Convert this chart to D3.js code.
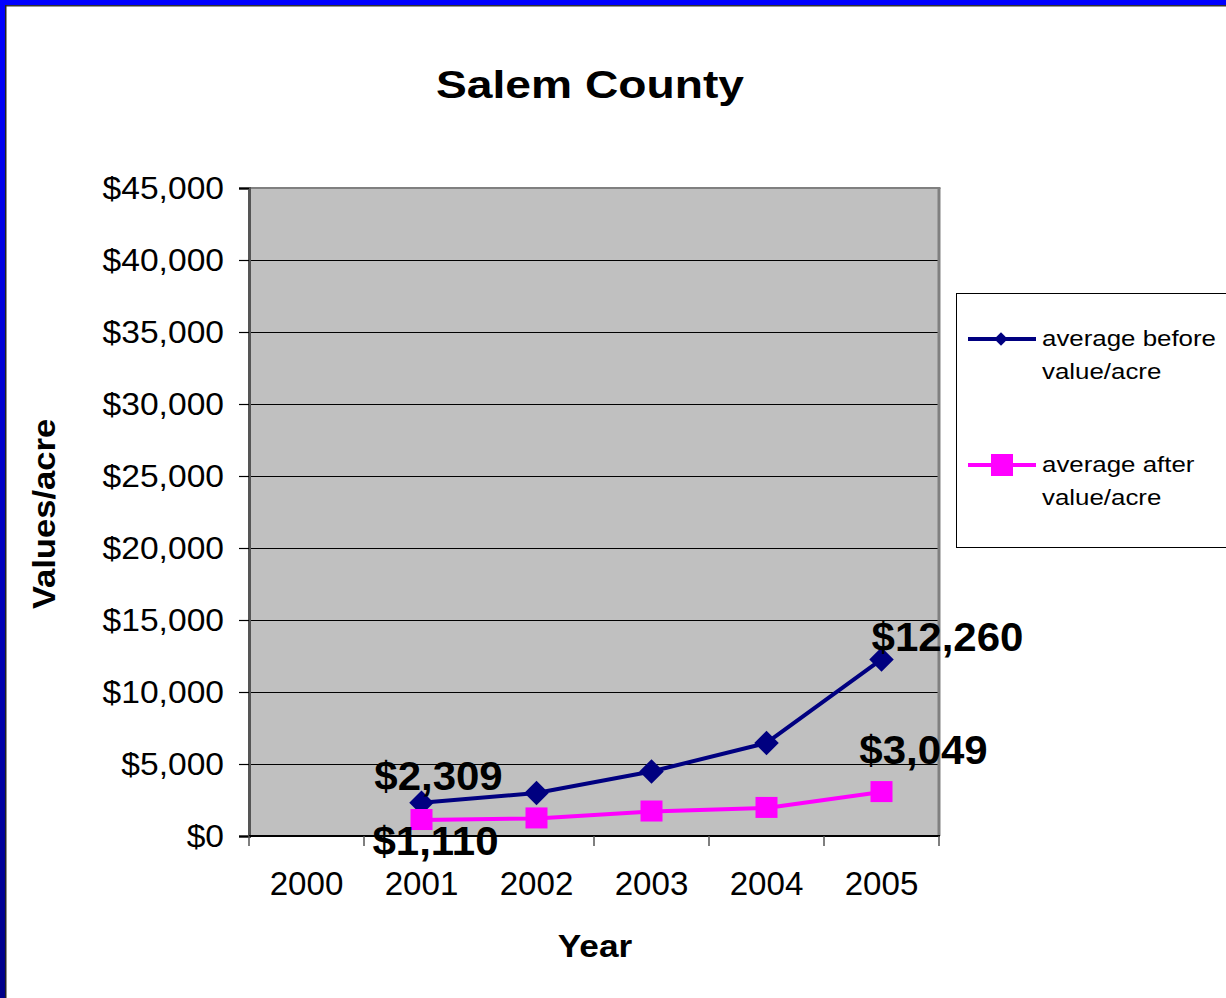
<!DOCTYPE html>
<html>
<head>
<meta charset="utf-8">
<script src="https://cdn.jsdelivr.net/npm/d3@7"></script>
<style>
  html, body { margin: 0; padding: 0; background: #fff; }
  svg { display: block; }
  text { font-family: "Liberation Sans", Arial, sans-serif; fill: #000; }
</style>
</head>
<body>
<svg id="chart" width="1226" height="998"></svg>
<script>
// Salem County: average before / after value per acre
const years = ["2000", "2001", "2002", "2003", "2004", "2005"];
const beforeValues = [null, 2309, 2980, 4480, 6460, 12260];
const afterValues = [null, 1110, 1220, 1700, 1950, 3049];
const yTicks = [0, 5000, 10000, 15000, 20000, 25000, 30000, 35000, 40000, 45000];
const seriesNames = ["average before value/acre", "average after value/acre"];
const legendLines = [["average before", "value/acre"], ["average after", "value/acre"]];

// labelled points: series index, year index, and label offset from the marker
const valueLabels = [
  { s: 0, i: 1, dx: 17, dy: -13 },
  { s: 1, i: 1, dx: 14, dy: 35 },
  { s: 0, i: 5, dx: 66, dy: -8 },
  { s: 1, i: 5, dx: 42, dy: -28 }
];

const W = 1226, H = 998;
const plot = { left: 249, right: 939, top: 188, bottom: 836 };
const navy = "#000080", magenta = "#FF00FF";

const svg = d3.select("#chart");

// frame
const defs = svg.append("defs");
const grad = defs.append("linearGradient").attr("id", "sideBar")
  .attr("x1", 0).attr("y1", 0).attr("x2", 0).attr("y2", 1);
grad.append("stop").attr("offset", "0%").attr("stop-color", "#0000FF");
grad.append("stop").attr("offset", "100%").attr("stop-color", "#000088");

svg.append("rect").attr("x", 0).attr("y", 0).attr("width", W).attr("height", 5).attr("fill", "#0000FF");
svg.append("rect").attr("x", 0).attr("y", 0).attr("width", 5).attr("height", H).attr("fill", "url(#sideBar)");
svg.append("line").attr("x1", 5).attr("x2", W).attr("y1", 5.75).attr("y2", 5.75)
  .attr("stroke", "#333").attr("stroke-width", 1.5);
svg.append("line").attr("x1", 5.75).attr("x2", 5.75).attr("y1", 5).attr("y2", H)
  .attr("stroke", "#222").attr("stroke-width", 1.5);

// scales
const x = d3.scaleBand().domain(years).range([plot.left, plot.right]).padding(0);
const y = d3.scaleLinear().domain([0, 45000]).range([plot.bottom, plot.top]);
const cx = d => x(d) + x.bandwidth() / 2;

// plot area
svg.append("rect")
  .attr("x", plot.left).attr("y", plot.top)
  .attr("width", plot.right - plot.left).attr("height", plot.bottom - plot.top)
  .attr("fill", "#C0C0C0");

// gridlines
svg.append("g").selectAll("line")
  .data(yTicks.filter(v => v > 0 && v < 45000))
  .join("line")
  .attr("x1", plot.left).attr("x2", plot.right)
  .attr("y1", d => Math.round(y(d)) + 0.5).attr("y2", d => Math.round(y(d)) + 0.5)
  .attr("stroke", "#000").attr("stroke-width", 1);

// plot border (top / right grey, left darker)
svg.append("line").attr("x1", plot.left).attr("x2", plot.right + 1.5)
  .attr("y1", plot.top).attr("y2", plot.top).attr("stroke", "#808080").attr("stroke-width", 2);
svg.append("line").attr("x1", plot.right).attr("x2", plot.right)
  .attr("y1", plot.top).attr("y2", plot.bottom).attr("stroke", "#808080").attr("stroke-width", 3);

// y axis
const yAxis = d3.axisLeft(y).tickValues(yTicks).tickSize(10)
  .tickFormat(d => "$" + d3.format(",")(d));
const gy = svg.append("g").attr("transform", `translate(${plot.left},0)`).call(yAxis);
gy.select(".domain").attr("stroke", "#555").attr("stroke-width", 3);
gy.selectAll(".tick line").attr("stroke", "#000").attr("stroke-width", 1.2);
gy.selectAll(".tick text")
  .attr("x", null).attr("dy", null)
  .attr("transform", "translate(-25,10) scale(1.05,1)")
  .attr("text-anchor", "end")
  .style("font-size", "32px");

// x axis
const gx = svg.append("g").attr("transform", `translate(0,${plot.bottom})`);
gx.append("line").attr("x1", plot.left).attr("x2", plot.right + 1)
  .attr("y1", 0).attr("y2", 0).attr("stroke", "#000").attr("stroke-width", 2);
const bounds = years.map(d => x(d)).concat([plot.right]);
gx.selectAll("line.tick").data(bounds).join("line").attr("class", "tick")
  .attr("x1", d => d).attr("x2", d => d).attr("y1", 0).attr("y2", 10)
  .attr("stroke", "#555").attr("stroke-width", 1.5);
gx.selectAll("text").data(years).join("text")
  .attr("transform", d => `translate(${cx(d)},59) scale(1.02,1)`)
  .attr("text-anchor", "middle")
  .style("font-size", "32.5px")
  .text(d => d);

// series
const series = [
  { values: beforeValues, color: navy, marker: "diamond" },
  { values: afterValues, color: magenta, marker: "square" }
];
const line = d3.line()
  .defined(d => d.v != null)
  .x(d => cx(d.year)).y(d => y(d.v));

series.forEach(s => {
  const pts = years.map((yr, i) => ({ year: yr, v: s.values[i] }));
  svg.append("path").datum(pts)
    .attr("d", line)
    .attr("fill", "none").attr("stroke", s.color).attr("stroke-width", 4)
    .attr("stroke-linejoin", "round");
  const g = svg.append("g");
  pts.filter(p => p.v != null).forEach(p => {
    if (s.marker === "diamond") {
      g.append("path")
        .attr("d", d3.symbol(d3.symbolSquare, 300)())
        .attr("transform", `translate(${cx(p.year)},${y(p.v)}) rotate(45)`)
        .attr("fill", s.color);
    } else {
      g.append("rect")
        .attr("x", cx(p.year) - 11).attr("y", y(p.v) - 11)
        .attr("width", 22).attr("height", 21)
        .attr("fill", s.color);
    }
  });
});

// value labels
svg.append("g").selectAll("text").data(valueLabels).join("text")
  .attr("transform", d => {
    const v = series[d.s].values[d.i];
    return `translate(${cx(years[d.i]) + d.dx},${y(v) + d.dy}) scale(1.05,1)`;
  })
  .attr("text-anchor", "middle")
  .style("font-size", "40px").style("font-weight", "bold")
  .text(d => "$" + d3.format(",")(series[d.s].values[d.i]));

// titles
svg.append("text")
  .attr("transform", "translate(590,98) scale(1.17,1)")
  .attr("text-anchor", "middle")
  .style("font-size", "39.5px").style("font-weight", "bold")
  .text("Salem County");

svg.append("text")
  .attr("transform", "translate(595,957) scale(1.1,1)")
  .attr("text-anchor", "middle")
  .style("font-size", "32px").style("font-weight", "bold")
  .text("Year");

svg.append("text")
  .attr("transform", "translate(55,514) rotate(-90) scale(1.08,1)")
  .attr("text-anchor", "middle")
  .style("font-size", "32px").style("font-weight", "bold")
  .text("Values/acre");

// legend
const legend = svg.append("g");
legend.append("rect")
  .attr("x", 956.5).attr("y", 293.5).attr("width", 300).attr("height", 254)
  .attr("fill", "#fff").attr("stroke", "#000").attr("stroke-width", 1);

const legendRows = [339, 465];
series.forEach((s, k) => {
  const ly = legendRows[k];
  legend.append("line").attr("x1", 968).attr("x2", 1036)
    .attr("y1", ly).attr("y2", ly).attr("stroke", s.color).attr("stroke-width", 4);
  if (s.marker === "diamond") {
    legend.append("path")
      .attr("d", d3.symbol(d3.symbolSquare, 90)())
      .attr("transform", `translate(1001,${ly}) rotate(45)`)
      .attr("fill", s.color);
  } else {
    legend.append("rect").attr("x", 991).attr("y", ly - 11)
      .attr("width", 22).attr("height", 22).attr("fill", s.color);
  }
  legendLines[k].forEach((t, j) => {
    legend.append("text")
      .attr("transform", `translate(1042,${ly + 7 + j * 33}) scale(1.15,1)`)
      .style("font-size", "22.5px")
      .text(t);
  });
});
</script>
</body>
</html>
